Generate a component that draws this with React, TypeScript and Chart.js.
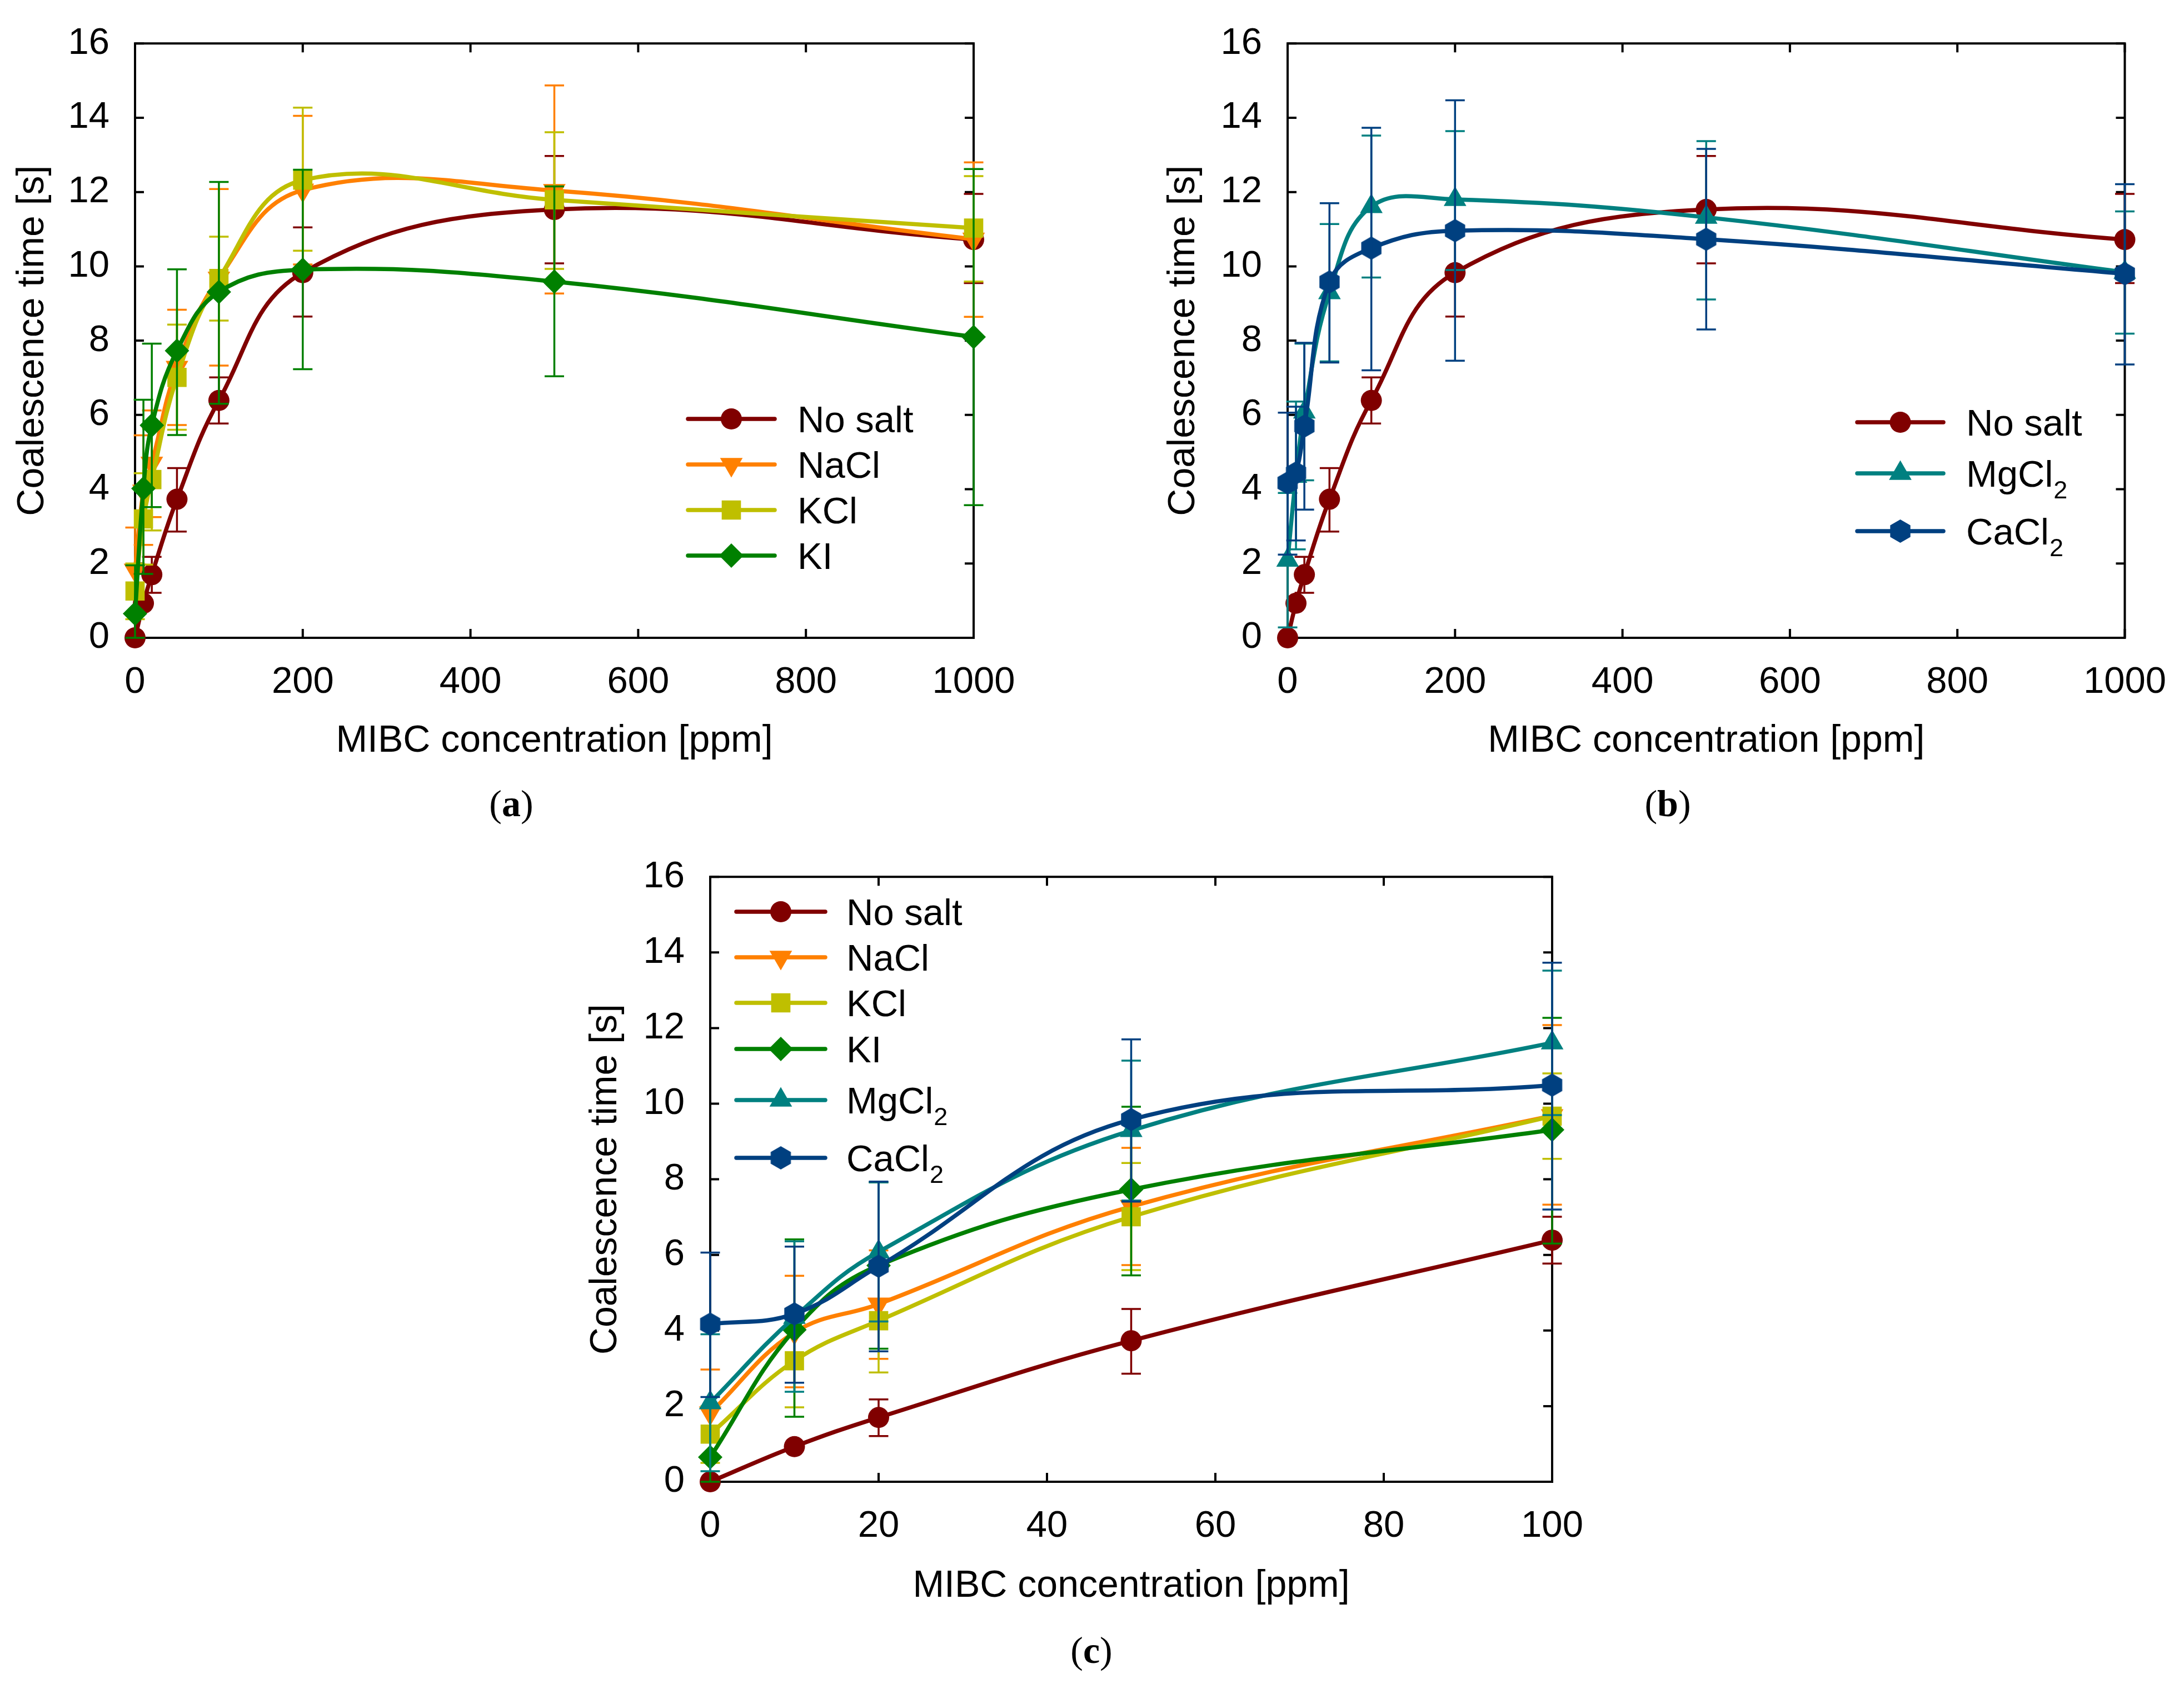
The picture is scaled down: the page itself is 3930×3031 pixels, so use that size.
import { useEffect, useRef } from 'react';
import { Chart, registerables } from 'chart.js';
import { drawPoint } from 'chart.js/helpers';

Chart.register(...registerables);

Chart.defaults.font.family = '"Liberation Sans", Arial, sans-serif';
Chart.defaults.color = '#000';

// MIBC concentration [ppm]
const concentration = [0, 10, 20, 50, 100, 200, 500, 1000];

// coalescence time [s]: mean values and the two ends of each error bar
const noSalt = [0, 0.93, 1.7, 3.73, 6.39, 9.83, 11.53, 10.72];
const noSaltLow = [null, null, 1.21, 2.86, 5.77, 8.65, 10.08, 9.55];
const noSaltHigh = [null, null, 2.18, 4.57, 7.01, 11.05, 12.97, 11.95];

const naCl = [1.82, 3.95, 4.7, 7.28, 9.68, 12.05, 12.04, 10.73];
const naClLow = [0.67, 2.5, 3.25, 5.73, 7.33, 10.05, 9.27, 8.64];
const naClHigh = [2.97, 5.45, 6.12, 8.83, 12.08, 14.05, 14.87, 12.8];

const kCl = [1.26, 3.2, 4.26, 7.01, 9.67, 12.32, 11.79, 11.03];
const kClLow = [0.5, 1.97, 2.89, 5.6, 8.54, 10.42, 9.93, 9.59];
const kClHigh = [2.0, 4.43, 5.63, 8.43, 10.8, 14.27, 13.61, 12.43];

const kI = [0.65, 4.02, 5.72, 7.73, 9.31, 9.91, 9.59, 8.1];
const kILow = [0, 1.72, 3.52, 5.46, 6.3, 7.23, 7.04, 3.57];
const kIHigh = [1.95, 6.41, 7.92, 9.92, 12.27, 12.6, 12.15, 12.62];

const mgCl2 = [2.09, 4.35, 6.08, 9.29, 11.61, 11.8, 11.32, 9.84];
const mgCl2Low = [0.28, 2.38, 4.24, 7.44, 9.7, 9.9, 9.11, 8.19];
const mgCl2High = [3.9, 6.36, 7.92, 11.14, 13.52, 13.64, 13.37, 11.48];

const caCl2 = [4.17, 4.44, 5.7, 9.58, 10.49, 10.96, 10.73, 9.8];
const caCl2Low = [2.24, 2.62, 3.45, 7.41, 7.2, 7.46, 8.3, 7.36];
const caCl2High = [6.06, 6.22, 7.94, 11.7, 13.73, 14.47, 13.16, 12.21];

const SERIES: Record<string, any> = {
  noSalt: { label: 'No salt', values: noSalt, low: noSaltLow, high: noSaltHigh, color: '#800000', style: 'circle', radius: 19 },
  naCl: { label: 'NaCl', values: naCl, low: naClLow, high: naClHigh, color: '#ff8000', style: 'triangle', rotation: 180, radius: 23.5 },
  kCl: { label: 'KCl', values: kCl, low: kClLow, high: kClHigh, color: '#bfbf00', style: 'rect', radius: 24.5 },
  kI: { label: 'KI', values: kI, low: kILow, high: kIHigh, color: '#008000', style: 'rectRot', radius: 22 },
  mgCl2: { label: 'MgCl', sub: '2', values: mgCl2, low: mgCl2Low, high: mgCl2High, color: '#008080', style: 'triangle', radius: 23.5 },
  caCl2: { label: 'CaCl', sub: '2', values: caCl2, low: caCl2Low, high: caCl2High, color: '#004080', style: 'hexagon', radius: 21 },
};

// page coordinates of each panel
const PANELS = [
  {
    id: 'a', keys: ['noSalt', 'naCl', 'kCl', 'kI'], count: 8, xMax: 1000, xStep: 200,
    canvas: { left: 0, top: 0, width: 1965, height: 1520 },
    area: { left: 243, top: 58, right: 1752, bottom: 1148 },
    yTitleX: 59, xTitleY: 1334,
    legend: { x0: 1238, x1: 1394, textX: 1435, rows: [754, 836, 918, 1000] },
    caption: { x: 920, y: 1446 },
  },
  {
    id: 'b', keys: ['noSalt', 'mgCl2', 'caCl2'], count: 8, xMax: 1000, xStep: 200,
    canvas: { left: 1965, top: 0, width: 1965, height: 1520 },
    area: { left: 2317, top: 58, right: 3829, bottom: 1148 },
    yTitleX: 2130, xTitleY: 1334,
    legend: { x0: 3342, x1: 3497, textX: 3538, rows: [760, 852, 956] },
    caption: { x: 3001, y: 1446 },
  },
  {
    id: 'c', keys: ['noSalt', 'naCl', 'kCl', 'kI', 'mgCl2', 'caCl2'], count: 5, xMax: 100, xStep: 20,
    canvas: { left: 960, top: 1500, width: 2000, height: 1531 },
    area: { left: 1278, top: 1576, right: 2793, bottom: 2667 },
    yTitleX: 1090, xTitleY: 2855,
    legend: { x0: 1325, x1: 1485, textX: 1523, rows: [1641, 1723, 1805, 1888, 1980, 2084] },
    caption: { x: 1964, y: 2970 },
  },
];

const FONT = '"Liberation Sans", Arial, sans-serif';

function hexagonMarker(color: string, r: number) {
  const c = document.createElement('canvas');
  const w = Math.ceil(Math.sqrt(3) * r) + 2;
  const h = Math.ceil(2 * r) + 2;
  c.width = w;
  c.height = h;
  const ctx = c.getContext('2d')!;
  ctx.fillStyle = color;
  ctx.beginPath();
  for (let k = 0; k < 6; k++) {
    const a = Math.PI / 2 + (k * Math.PI) / 3;
    const px = w / 2 + r * Math.cos(a);
    const py = h / 2 + r * Math.sin(a);
    if (k === 0) ctx.moveTo(px, py);
    else ctx.lineTo(px, py);
  }
  ctx.closePath();
  ctx.fill();
  return c;
}

// box with inward ticks on all four sides
const framePlugin = {
  id: 'frame',
  beforeDatasetsDraw(chart: any) {
    const { ctx, chartArea, scales } = chart;
    const { left, right, top, bottom } = chartArea;
    ctx.save();
    ctx.strokeStyle = '#000';
    ctx.lineWidth = 4;
    ctx.beginPath();
    scales.x.ticks.forEach((t: any) => {
      const px = scales.x.getPixelForValue(t.value);
      ctx.moveTo(px, bottom);
      ctx.lineTo(px, bottom - 16);
      ctx.moveTo(px, top);
      ctx.lineTo(px, top + 16);
    });
    scales.y.ticks.forEach((t: any) => {
      const py = scales.y.getPixelForValue(t.value);
      ctx.moveTo(left, py);
      ctx.lineTo(left + 16, py);
      ctx.moveTo(right, py);
      ctx.lineTo(right - 16, py);
    });
    ctx.stroke();
    ctx.strokeRect(left, top, right - left, bottom - top);
    ctx.restore();
  },
};

const errorBarPlugin = {
  id: 'errorBars',
  afterDatasetDraw(chart: any, args: any) {
    const ds = chart.data.datasets[args.index];
    const yScale = chart.scales.y;
    const ctx = chart.ctx;
    ctx.save();
    ctx.strokeStyle = ds.borderColor;
    ctx.lineWidth = 3.5;
    args.meta.data.forEach((pt: any, j: number) => {
      const lo = ds.errLow[j];
      const hi = ds.errHigh[j];
      if (lo == null || hi == null) return;
      const yl = yScale.getPixelForValue(lo);
      const yh = yScale.getPixelForValue(hi);
      ctx.beginPath();
      ctx.moveTo(pt.x, yl);
      ctx.lineTo(pt.x, yh);
      ctx.moveTo(pt.x - 17.5, yl);
      ctx.lineTo(pt.x + 17.5, yl);
      ctx.moveTo(pt.x - 17.5, yh);
      ctx.lineTo(pt.x + 17.5, yh);
      ctx.stroke();
    });
    ctx.restore();
  },
};

function legendPlugin(lg: any) {
  return {
    id: 'insetLegend',
    afterDraw(chart: any) {
      const ctx = chart.ctx;
      chart.data.datasets.forEach((ds: any, i: number) => {
        const y = lg.rows[i];
        ctx.save();
        ctx.strokeStyle = ds.borderColor;
        ctx.lineWidth = 7.5;
        ctx.lineCap = 'round';
        ctx.beginPath();
        ctx.moveTo(lg.x0, y);
        ctx.lineTo(lg.x1, y);
        ctx.stroke();
        ctx.fillStyle = ds.pointBackgroundColor;
        drawPoint(ctx, { pointStyle: ds.pointStyle, rotation: ds.pointRotation, radius: ds.pointRadius, borderWidth: 0 } as any, (lg.x0 + lg.x1) / 2, y);
        ctx.fillStyle = '#000';
        ctx.textAlign = 'left';
        ctx.textBaseline = 'alphabetic';
        ctx.font = `67px ${FONT}`;
        const base = y + 24;
        ctx.fillText(ds.label, lg.textX, base);
        if (ds.labelSub) {
          const w = ctx.measureText(ds.label).width;
          ctx.font = `45px ${FONT}`;
          ctx.fillText(ds.labelSub, lg.textX + w + 1, base + 21);
        }
        ctx.restore();
      });
    },
  };
}

function Panel({ panel }: { panel: any }) {
  const canvasRef = useRef<HTMLCanvasElement>(null);
  const chartRef = useRef<Chart | null>(null);

  useEffect(() => {
    if (!canvasRef.current) return;
    if (chartRef.current) chartRef.current.destroy();
    const { canvas, area } = panel;
    const a = {
      left: area.left - canvas.left,
      right: area.right - canvas.left,
      top: area.top - canvas.top,
      bottom: area.bottom - canvas.top,
    };
    const lg = {
      x0: panel.legend.x0 - canvas.left,
      x1: panel.legend.x1 - canvas.left,
      textX: panel.legend.textX - canvas.left,
      rows: panel.legend.rows.map((r: number) => r - canvas.top),
    };
    const yTitlePad = panel.yTitleX - canvas.left - (68 * 1.2) / 2;
    const xTitlePad = canvas.top + canvas.height - panel.xTitleY - (68 * 1.2) / 2;

    const datasets = panel.keys.map((k: string, i: number) => {
      const s = SERIES[k];
      return {
        label: s.label,
        labelSub: s.sub,
        data: s.values.slice(0, panel.count).map((v: number, j: number) => ({ x: concentration[j], y: v })),
        errLow: s.low.slice(0, panel.count),
        errHigh: s.high.slice(0, panel.count),
        borderColor: s.color,
        backgroundColor: s.color,
        borderWidth: 7.5,
        borderCapStyle: 'round',
        pointStyle: s.style === 'hexagon' ? hexagonMarker(s.color, s.radius) : s.style,
        pointRotation: s.rotation || 0,
        pointRadius: s.radius,
        pointHoverRadius: s.radius,
        pointBorderWidth: 0,
        pointBackgroundColor: s.color,
        tension: 0.4,
        fill: false,
        clip: false,
        order: panel.keys.length - i,
      };
    });

    chartRef.current = new Chart(canvasRef.current, {
      type: 'line',
      data: { datasets },
      options: {
        animation: false,
        responsive: false,
        devicePixelRatio: 1,
        events: [],
        layout: { padding: { top: a.top, right: canvas.width - a.right, left: 0, bottom: 0 } },
        plugins: { legend: { display: false }, tooltip: { enabled: false } },
        scales: {
          x: {
            type: 'linear',
            min: 0,
            max: panel.xMax,
            grid: { display: false },
            border: { display: false },
            ticks: {
              stepSize: panel.xStep,
              padding: 32,
              autoSkip: false,
              maxRotation: 0,
              font: { size: 67 },
              color: '#000',
              callback: (v: any) => String(v),
            },
            title: {
              display: true,
              text: 'MIBC concentration [ppm]',
              font: { size: 68, lineHeight: 1.2 },
              color: '#000',
              padding: { top: 0, bottom: xTitlePad },
            },
            afterFit: (scale: any) => {
              scale.height = canvas.height - a.bottom;
            },
          },
          y: {
            type: 'linear',
            min: 0,
            max: 16,
            grid: { display: false },
            border: { display: false },
            ticks: {
              stepSize: 2,
              padding: 38,
              font: { size: 67 },
              color: '#000',
              callback: (v: any) => String(v),
            },
            title: {
              display: true,
              text: 'Coalescence time [s]',
              font: { size: 68, lineHeight: 1.2 },
              color: '#000',
              padding: { top: yTitlePad, bottom: 0 },
            },
            afterFit: (scale: any) => {
              scale.width = a.left;
            },
          },
        },
      } as any,
      plugins: [framePlugin, errorBarPlugin, legendPlugin(lg)],
    });

    return () => {
      if (chartRef.current) {
        chartRef.current.destroy();
        chartRef.current = null;
      }
    };
  }, [panel]);

  const { canvas } = panel;
  return (
    <canvas
      ref={canvasRef}
      width={canvas.width}
      height={canvas.height}
      style={{ position: 'absolute', left: canvas.left, top: canvas.top, width: canvas.width, height: canvas.height }}
    />
  );
}

export default function App() {
  return (
    <div style={{ position: 'absolute', left: 0, top: 0, width: 3930, height: 3031, background: '#fff', overflow: 'hidden' }}>
      {PANELS.map((p) => (
        <Panel key={p.id} panel={p} />
      ))}
      {PANELS.map((p) => (
        <div
          key={'cap-' + p.id}
          style={{
            position: 'absolute',
            left: p.caption.x,
            top: p.caption.y,
            transform: 'translate(-50%, -50%)',
            font: '68px "Liberation Serif", "Times New Roman", serif',
            lineHeight: 1,
            whiteSpace: 'nowrap',
            color: '#000',
          }}
        >
          (<b>{p.id}</b>)
        </div>
      ))}
    </div>
  );
}
